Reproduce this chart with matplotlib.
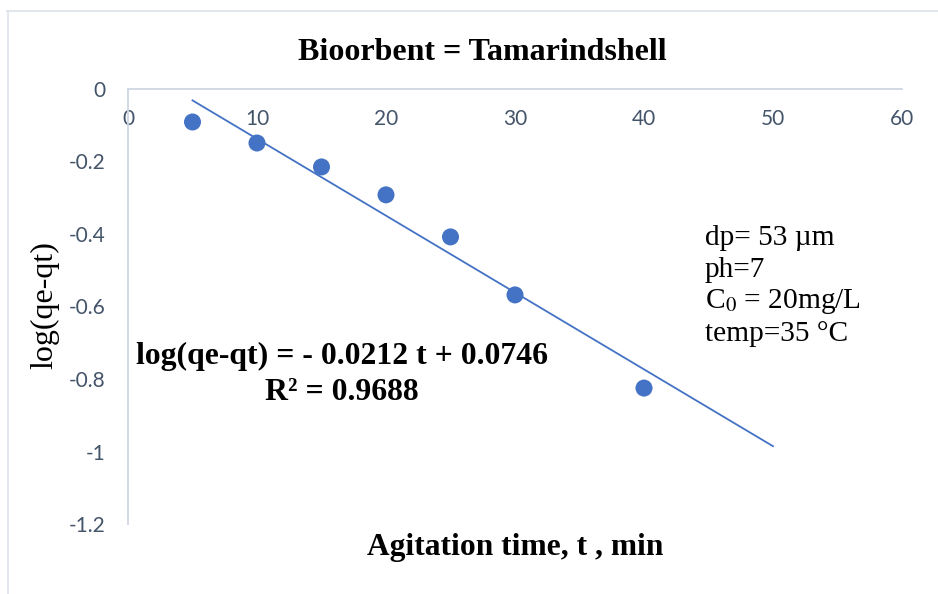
import matplotlib
matplotlib.use("Agg")
import matplotlib.pyplot as plt
from matplotlib.lines import Line2D
import numpy as np

# data
t_min = [5, 10, 15, 20, 25, 30, 40]
log_qe_qt = [-0.091, -0.149, -0.215, -0.292, -0.408, -0.568, -0.825]
slope = -0.0212
intercept = 0.0746
trend_x = [5, 50]
x_ticks = [0, 10, 20, 30, 40, 50, 60]
y_ticks = [0, -0.2, -0.4, -0.6, -0.8, -1.0, -1.2]
y_tick_labels = ["0", "-0.2", "-0.4", "-0.6", "-0.8", "-1", "-1.2"]

W, H = 938, 594
fig = plt.figure(figsize=(W / 100, H / 100), dpi=100)
fig.patch.set_facecolor("white")

# outer light frame
border = "#dde3ea"
fig.add_artist(Line2D([7 / W, 1.0], [1 - 11 / H, 1 - 11 / H], color=border, lw=1.2))
fig.add_artist(Line2D([8 / W, 8 / W], [0.0, 1 - 11 / H], color=border, lw=1.2))

ax = fig.add_axes([128 / W, 1 - 524 / H, (902 - 128) / W, (524 - 89) / H])
ax.set_xlim(0, 60)
ax.set_ylim(-1.2, 0)

axis_col = "#cfd7e3"
for s in ["right", "bottom"]:
    ax.spines[s].set_visible(False)
ax.spines["top"].set_color(axis_col)
ax.spines["left"].set_color(axis_col)
ax.spines["top"].set_linewidth(1.3)
ax.spines["left"].set_linewidth(1.3)

tick_col = "#44546a"
ax.xaxis.set_ticks_position("top")
ax.set_xticks(x_ticks)
ax.set_xticklabels([str(v) for v in x_ticks])
ax.tick_params(axis="x", length=0, pad=-29, labelsize=15, labelcolor=tick_col)
ax.set_yticks(y_ticks)
ax.set_yticklabels(y_tick_labels)
ax.tick_params(axis="y", length=0, pad=16.5, labelsize=15, labelcolor=tick_col)
for lab in ax.get_xticklabels() + ax.get_yticklabels():
    lab.set_fontfamily("Lato")

blue = "#4472c4"
ax.scatter(t_min, log_qe_qt, s=150, color=blue, zorder=3, edgecolors="none")
tx = np.array(trend_x, dtype=float)
ax.plot(tx, slope * tx + intercept, color=blue, lw=1.3, zorder=2)

serif = "Liberation Serif"
fig.text(482 / W, 1 - 52 / H, "Bioorbent = Tamarindshell", ha="center", va="center",
         fontsize=23, fontweight="bold", family=serif)
fig.text(515 / W, 1 - 548 / H, "Agitation time, t , min", ha="center", va="center",
         fontsize=22.7, fontweight="bold", family=serif)
fig.text(45 / W, 1 - 305 / H, "log(qe-qt)", ha="center", va="center", rotation=90,
         fontsize=23, family=serif)

fig.text(342 / W, 1 - 356 / H, "log(qe-qt) = - 0.0212 t + 0.0746", ha="center", va="center",
         fontsize=22.9, fontweight="bold", family=serif)
fig.text(342 / W, 1 - 392 / H, "R² = 0.9688", ha="center", va="center",
         fontsize=22.9, fontweight="bold", family=serif)

plt.rcParams["mathtext.fontset"] = "stix"
cond_lines = ["dp= 53 µm", "ph=7", "C$_0$ = 20mg/L", "temp=35 °C"]
for i, line in enumerate(cond_lines):
    fig.text(705 / W, 1 - (238 + 32 * i) / H, line, ha="left", va="center",
             fontsize=21.2, family=serif)

fig.savefig("out.png", dpi=100, facecolor="white")
